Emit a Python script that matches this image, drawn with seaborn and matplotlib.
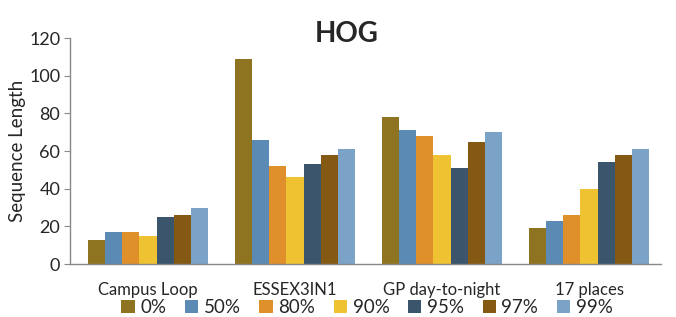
import pandas as pd
import seaborn as sns
import matplotlib.pyplot as plt

# ===== DATA =====
routes = ["Campus Loop", "ESSEX3IN1", "GP day-to-night", "17 places"]
thresholds = ["0%", "50%", "80%", "90%", "95%", "97%", "99%"]
lengths = {
    "0%":  [13, 109, 78, 19],
    "50%": [17, 66, 71, 23],
    "80%": [17, 52, 68, 26],
    "90%": [15, 46, 58, 40],
    "95%": [25, 53, 51, 54],
    "97%": [26, 58, 65, 58],
    "99%": [30, 61, 70, 61],
}
colors = ["#8E7420", "#5B8BB5", "#E0902A", "#EFC232", "#3A556C", "#845914", "#7BA3C7"]

rows = []
for t in thresholds:
    for r, v in zip(routes, lengths[t]):
        rows.append({"route": r, "threshold": t, "length": v})
df = pd.DataFrame(rows)

# ===== PLOT =====
sns.set_style("white")
plt.rcParams['font.family'] = ['Lato', 'DejaVu Sans']

fig = plt.figure(figsize=(6.76, 3.17), dpi=100)
ax = fig.add_axes([0.1036, 0.167, 0.8744, 0.713])

sns.barplot(data=df, x="route", y="length", hue="threshold", order=routes,
            hue_order=thresholds, palette=colors, width=0.82, saturation=1,
            linewidth=0, ax=ax)

ax.set_ylim(0, 120)
ax.set_yticks(range(0, 121, 20))
ax.set_xlim(-0.53, 3.49)
ax.set_xlabel("")
ax.set_ylabel("Sequence Length", fontsize=13.5, labelpad=2)
ax.tick_params(axis="y", labelsize=13, length=4, color="#888888", left=True, pad=3)
ax.tick_params(axis="x", labelsize=12, length=0, pad=13)

for side in ["top", "right"]:
    ax.spines[side].set_visible(False)
for side in ["left", "bottom"]:
    ax.spines[side].set_color("#888888")
    ax.spines[side].set_linewidth(1)

fig.text(0.513, 0.867, "HOG", fontsize=20, fontweight="bold", ha="center", va="baseline")

ax.legend(loc="center", bbox_to_anchor=(0.543, 0.03), bbox_transform=fig.transFigure,
          ncol=7, frameon=False, fontsize=13.5, handlelength=0.7, handleheight=0.7,
          handletextpad=0.3, columnspacing=1.0, borderaxespad=0)

fig.savefig("out.png", dpi=100)
